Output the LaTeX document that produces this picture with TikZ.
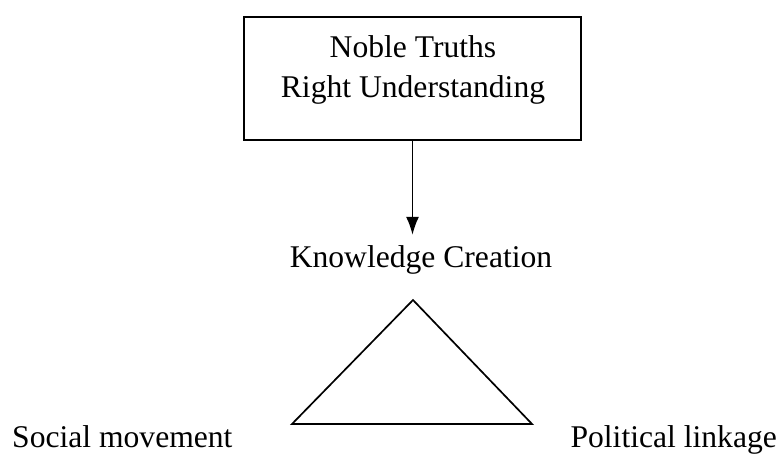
\documentclass[tikz,border=0pt]{standalone}
\usepackage{fontspec}
\setmainfont{Liberation Serif}
\usetikzlibrary{arrows.meta,positioning,calc}
\tikzset{
  lbl/.style={font=\fontsize{31.6pt}{40pt}\selectfont,inner sep=0pt},
  frame/.style={draw,line width=2pt}
}
\begin{document}
\begin{tikzpicture}[x=1pt,y=-1pt,>={Latex[length=18pt,width=13pt]}]
      \useasboundingbox (0,0) rectangle (783,454);
      % box with the truths
      \node[frame,minimum width=337pt,minimum height=123pt,inner sep=0pt] (box) at (412.5,78.5) {};
      \node[lbl,align=center,anchor=north] (truths) at (413,35) {Noble Truths\\Right Understanding};
      \node[lbl,anchor=base,inner sep=10pt] (know) at (421,267) {Knowledge Creation};
      \draw[->,line width=1.8pt] (box.south) -- (box.south |- know.north);
      % triangle
      \coordinate (top) at (413,300);
      \coordinate (bl) at (292,424);
      \coordinate (br) at (532,424);
      \draw[line width=1.7pt,line join=miter] (top) -- (br) -- (bl) -- cycle;
      \node[lbl,anchor=base west] (social) at (12,447) {Social movement};
      \node[lbl,anchor=base east] (polit) at (777,447) {Political linkage};
    \end{tikzpicture}
\end{document}
